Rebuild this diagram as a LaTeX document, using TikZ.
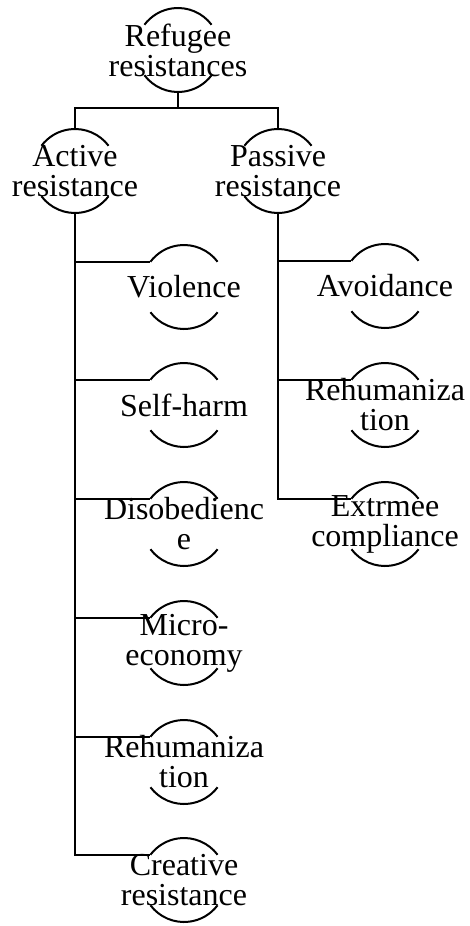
\documentclass[tikz,border=0pt]{standalone}
\usepackage{fontspec}
\setmainfont{Liberation Serif}
\usetikzlibrary{positioning}

\begin{document}
\begin{tikzpicture}[
  x=1pt, y=-1pt,
  font=\fontsize{32}{30}\selectfont,
  topic/.style={align=center, inner sep=0pt},
  link/.style={line width=2.4pt, draw=black},
  rim/.style={line width=2pt, draw=black}
]
  \useasboundingbox (0,0) rectangle (469,926);

  % top levels
  \node[topic] (root) at (178,50) {Refugee\\resistances};
  \node[topic] (act) at (75,171) {Active\\resistance};
  \node[topic] (pas) at (278,171) {Passive\\resistance};

  % active branch
  \node[topic] (viol) at (184,287) {Violence};
  \node[topic] (harm) at (184,405) {Self-harm};
  \node[topic] (disob) at (184,524) {Disobedienc\\e};
  \node[topic] (micro) at (184,643) {Micro-\\economy};
  \node[topic] (rehumA) at (184,762) {Rehumaniza\\tion};
  \node[topic] (creat) at (184,880) {Creative\\resistance};

  % passive branch
  \node[topic] (avoid) at (385,286) {Avoidance};
  \node[topic] (rehumP) at (385,405) {Rehumaniza\\tion};
  \node[topic] (comply) at (385,524) {Extrmee\\compliance};

  % half rims
  \foreach \n in {root,act,pas,viol,harm,disob,micro,rehumA,creat,avoid,rehumP,comply} {
    \draw[rim] ([shift={(37:42pt)}]\n.center) arc[start angle=37, end angle=143, radius=42pt];
    \draw[rim] ([shift={(217:42pt)}]\n.center) arc[start angle=217, end angle=323, radius=42pt];
  }

  \coordinate (fork) at (178,108);
  \draw[link] ([yshift=-42pt]root.center) -- (fork);
  \draw[link] ([yshift=42pt]act.center) |- (fork) -| ([yshift=42pt]pas.center);

  \draw[link] ([yshift=-42pt]act.center) |- ([shift={(143:42pt)}]viol.center);
  \draw[link] ([yshift=-42pt]act.center) |- ([shift={(143:42pt)}]harm.center);
  \draw[link] ([yshift=-42pt]act.center) |- ([shift={(143:42pt)}]disob.center);
  \draw[link] ([yshift=-42pt]act.center) |- ([shift={(143:42pt)}]micro.center);
  \draw[link] ([yshift=-42pt]act.center) |- ([shift={(143:42pt)}]rehumA.center);
  \draw[link] ([yshift=-42pt]act.center) |- ([shift={(143:42pt)}]creat.center);

  \draw[link] ([yshift=-42pt]pas.center) |- ([shift={(143:42pt)}]avoid.center);
  \draw[link] ([yshift=-42pt]pas.center) |- ([shift={(143:42pt)}]rehumP.center);
  \draw[link] ([yshift=-42pt]pas.center) |- ([shift={(143:42pt)}]comply.center);
\end{tikzpicture}
\end{document}
